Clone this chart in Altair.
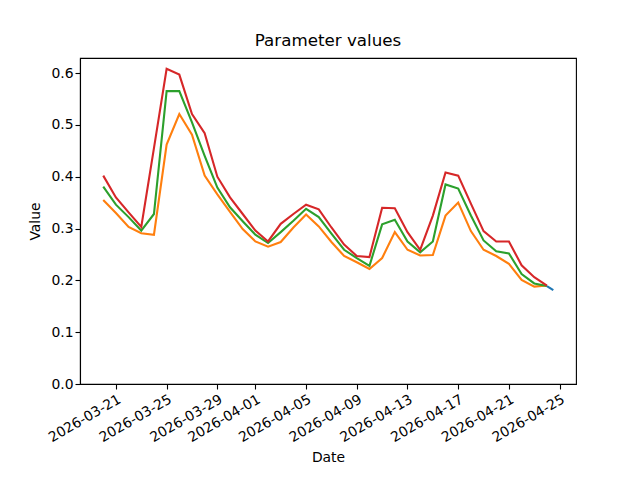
import altair as alt
import pandas as pd

# Daily dates 2026-03-20 .. 2026-04-24
dates = pd.date_range("2026-03-20", "2026-04-24", freq="D")

red_values = [0.402, 0.360, 0.331, 0.303, 0.455, 0.608, 0.597, 0.521, 0.484, 0.400,
              0.360, 0.328, 0.296, 0.275, 0.309, 0.328, 0.346, 0.337, 0.302, 0.269,
              0.247, 0.245, 0.340, 0.339, 0.293, 0.259, 0.325, 0.408, 0.402, 0.348,
              0.295, 0.275, 0.275, 0.229, 0.206, 0.190]
green_values = [0.381, 0.346, 0.322, 0.296, 0.328, 0.565, 0.565, 0.505, 0.440, 0.379,
                0.341, 0.314, 0.288, 0.272, 0.293, 0.315, 0.338, 0.322, 0.290, 0.259,
                0.243, 0.228, 0.308, 0.317, 0.275, 0.254, 0.275, 0.385, 0.377, 0.325,
                0.277, 0.256, 0.252, 0.212, 0.194, 0.189]
orange_values = [0.355, 0.330, 0.303, 0.291, 0.288, 0.462, 0.521, 0.481, 0.402, 0.366,
                 0.332, 0.299, 0.275, 0.265, 0.274, 0.302, 0.327, 0.304, 0.274, 0.247,
                 0.235, 0.222, 0.243, 0.293, 0.259, 0.248, 0.249, 0.325, 0.350, 0.295,
                 0.259, 0.247, 0.232, 0.201, 0.188, 0.190]
blue_dates = ["2026-04-24T00:00:00Z", "2026-04-24T06:00:00Z", "2026-04-24T12:00:00Z"]
blue_values = [0.189, 0.185, 0.181]

tick_dates = ["2026-03-21", "2026-03-25", "2026-03-29", "2026-04-01", "2026-04-05",
              "2026-04-09", "2026-04-13", "2026-04-17", "2026-04-21", "2026-04-25"]
y_ticks = [0.0, 0.1, 0.2, 0.3, 0.4, 0.5, 0.6]

series_names = ["blue", "orange", "green", "red"]
series_colors = ["#1f77b4", "#ff7f0e", "#2ca02c", "#d62728"]

iso = [d.strftime("%Y-%m-%dT00:00:00Z") for d in dates]
rows = []
for name, vals in [("orange", orange_values), ("green", green_values), ("red", red_values)]:
    for d, v in zip(iso, vals):
        rows.append({"date": d, "value": v, "series": name})
for d, v in zip(blue_dates, blue_values):
    rows.append({"date": d, "value": v, "series": "blue"})
df = pd.DataFrame(rows)
df["order"] = df["series"].map({"orange": 0, "green": 1, "red": 2, "blue": 3})

def dt(s):
    y, m, d = s.split("-")
    return alt.DateTime(year=int(y), month=int(m), date=int(d), utc=True)

font = "DejaVu Sans"

chart = alt.Chart(df).mark_line(strokeWidth=2.1).encode(
    x=alt.X("date:T",
            scale=alt.Scale(type="utc",
                            domain=[alt.DateTime(year=2026, month=3, date=18, hours=4, utc=True),
                                    alt.DateTime(year=2026, month=4, date=26, hours=7, utc=True)],
                            nice=False),
            axis=alt.Axis(title="Date", values=[dt(s) for s in tick_dates], format="%Y-%m-%d",
                          labelAngle=330, labelAlign="right", labelBaseline="top",
                          labelOverlap=False, labelFlush=False, labelPadding=3,
                          titlePadding=6)),
    y=alt.Y("value:Q",
            scale=alt.Scale(domain=[0, 0.629], nice=False, zero=False),
            axis=alt.Axis(title="Value", values=y_ticks, format=".1f", titlePadding=8)),
    color=alt.Color("series:N", scale=alt.Scale(domain=series_names, range=series_colors), legend=None),
    detail="series:N",
    order="order:Q",
).properties(
    width=496, height=326,
    title=alt.TitleParams("Parameter values", fontSize=16.7, font=font, fontWeight="normal",
                          color="black", offset=8),
    autosize=alt.AutoSizeParams(type="none"),
    padding={"left": 72, "top": 50, "right": 56, "bottom": 88},
    background="white",
).configure_view(
    stroke="black", strokeWidth=1.1
).configure_axis(
    grid=False, domainColor="black", domainWidth=1.1, tickColor="black", tickSize=5, tickWidth=1.1,
    labelFont=font, labelFontSize=13.9, labelColor="black",
    titleFont=font, titleFontSize=13.9, titleColor="black", titleFontWeight="normal",
)

chart.save("out.html", embed_options={"renderer": "svg", "actions": False})
